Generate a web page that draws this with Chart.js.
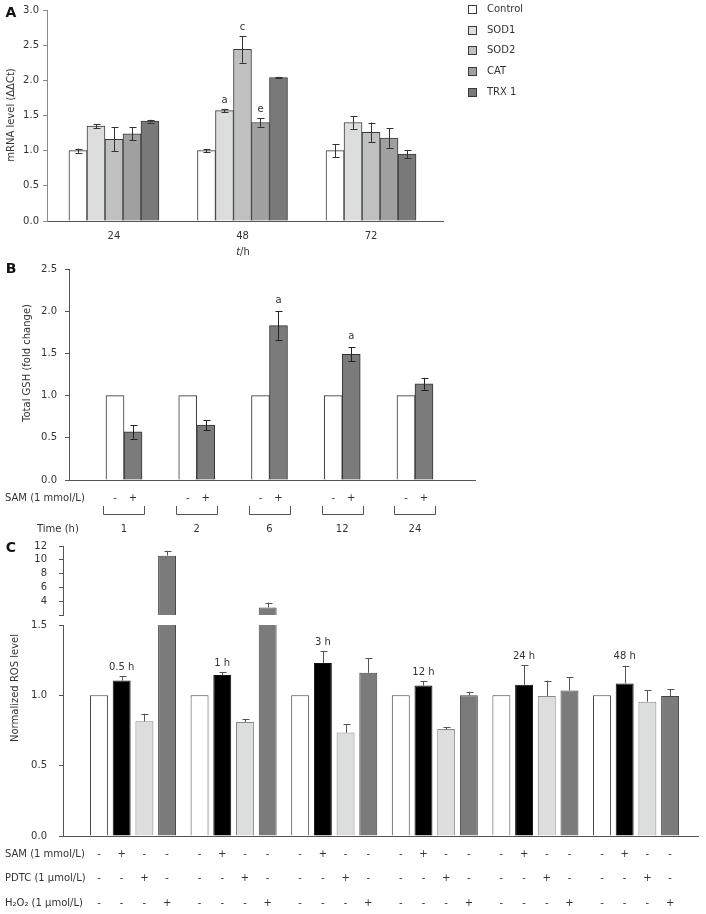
<!DOCTYPE html>
<html>
<head>
<meta charset="utf-8">
<script src="https://cdn.jsdelivr.net/npm/chart.js@4"></script>
<style>
  body { margin: 0; background: #fff; }
  #page { position: relative; width: 706px; height: 914px; overflow: hidden; }
  canvas { position: absolute; left: 0; }
</style>
</head>
<body>
<div id="page">
  <canvas id="chartA" width="706" height="262" style="top:0"></canvas>
  <canvas id="chartB" width="706" height="285" style="top:255px"></canvas>
  <canvas id="chartCtop" width="706" height="85" style="top:535px"></canvas>
  <canvas id="chartC" width="706" height="295" style="top:619px"></canvas>
</div>
<script>
// ---- Panel A: mRNA levels ----
const timesA = ['24', '48', '72'];
const genesA = ['Control', 'SOD1', 'SOD2', 'CAT', 'TRX 1'];
const controlA = [1.00, 1.00, 1.00];
const sod1A = [1.35, 1.57, 1.40];
const sod2A = [1.16, 2.44, 1.26];
const catA = [1.24, 1.40, 1.18];
const trx1A = [1.42, 2.04, 0.95];
const controlAErr = [0.03, 0.02, 0.09];
const sod1AErr = [0.03, 0.02, 0.09];
const sod2AErr = [0.17, 0.19, 0.14];
const catAErr = [0.09, 0.06, 0.14];
const trx1AErr = [0.02, 0.01, 0.06];
const sod1ANotes = ['', 'a', ''];
const sod2ANotes = ['', 'c', ''];
const catANotes = ['', 'e', ''];

// ---- Panel B: total GSH ----
const timesB = ['1', '2', '6', '12', '24'];
const controlB = [1, 1, 1, 1, 1];
const samB = [0.57, 0.65, 1.83, 1.49, 1.14];
const samBErr = [0.08, 0.06, 0.17, 0.08, 0.07];
const samBNotes = ['', '', 'a', 'a', ''];

// ---- Panel C: ROS ----
const timesC = ['0.5 h', '1 h', '3 h', '12 h', '24 h', '48 h'];
const controlC = [1, 1, 1, 1, 1, 1];
const samC = [1.105, 1.145, 1.23, 1.07, 1.075, 1.085];
const samCErr = [0.03, 0.02, 0.085, 0.03, 0.14, 0.125];
const pdtcC = [0.815, 0.81, 0.735, 0.76, 0.995, 0.955];
const pdtcCErr = [0.055, 0.02, 0.06, 0.015, 0.11, 0.08];
const h2o2C = [10.6, 3.1, 1.16, 1.0, 1.035, 0.995];
const h2o2CErr = [0.7, 0.7, 0.105, 0.025, 0.095, 0.05];
const samSigns = ['-', '+', '-', '-'];
const pdtcSigns = ['-', '-', '+', '-'];
const h2o2Signs = ['-', '-', '-', '+'];

const FONT = '10px "DejaVu Sans", sans-serif';
const TEXT = '#333';
const AXIS = '#555';

Chart.defaults.font.family = '"DejaVu Sans", sans-serif';
Chart.defaults.font.size = 10;
Chart.defaults.color = TEXT;

function xy(values) {
  return values.map((v, i) => ({ x: i, y: v }));
}

// error bars (+ optional letters above them)
function errorBars(errs, notes, both, color, gap) {
  return {
    id: 'errorBars',
    afterDatasetsDraw(chart) {
      const { ctx, scales: { y } } = chart;
      ctx.save();
      ctx.lineWidth = 1;
      ctx.strokeStyle = color;
      ctx.fillStyle = TEXT;
      ctx.font = FONT;
      ctx.textAlign = 'center';
      ctx.textBaseline = 'bottom';
      chart.data.datasets.forEach((ds, i) => {
        const e = errs[i] || [];
        const n = notes[i] || [];
        chart.getDatasetMeta(i).data.forEach((bar, j) => {
          const v = ds.data[j].y;
          const err = e[j] || 0;
          if (v < y.min || v + err > y.max + 1e-9) return;
          let top = bar.y;
          const x = Math.round(bar.x) + 0.5;
          if (err) {
            top = y.getPixelForValue(v + err);
            const bot = both ? y.getPixelForValue(v - err) : bar.y;
            ctx.beginPath();
            ctx.moveTo(x, bot);
            ctx.lineTo(x, top);
            ctx.moveTo(x - 3, Math.round(top) + 0.5);
            ctx.lineTo(x + 4, Math.round(top) + 0.5);
            if (both) {
              ctx.moveTo(x - 3, Math.round(bot) + 0.5);
              ctx.lineTo(x + 4, Math.round(bot) + 0.5);
            }
            ctx.stroke();
          }
          if (n[j]) ctx.fillText(n[j], bar.x, top - gap);
        });
      });
      ctx.restore();
    }
  };
}

// free text: titles, panel letters, row labels
function textItems(items) {
  return {
    id: 'textItems',
    afterDraw(chart) {
      const ctx = chart.ctx;
      items.forEach(it => {
        ctx.save();
        ctx.translate(it.x, it.y);
        if (it.rotate) ctx.rotate(it.rotate);
        ctx.fillStyle = it.color || TEXT;
        ctx.textBaseline = 'middle';
        ctx.textAlign = 'left';
        const parts = it.parts || [{ text: it.text, font: it.font }];
        const widths = parts.map(p => { ctx.font = p.font || it.font || FONT; return ctx.measureText(p.text).width; });
        const w = widths.reduce((a, b) => a + b, 0);
        let x = it.align === 'left' ? 0 : -w / 2;
        parts.forEach((p, k) => {
          ctx.font = p.font || it.font || FONT;
          ctx.fillText(p.text, x, 0);
          x += widths[k];
        });
        ctx.restore();
      });
    }
  };
}

// +/- rows under the bars, optional brackets and group names
function treatRows(rows, brackets, groups) {
  return {
    id: 'treatRows',
    afterDraw(chart) {
      const ctx = chart.ctx;
      const xs = chart.scales.x;
      ctx.save();
      ctx.font = FONT;
      ctx.fillStyle = TEXT;
      ctx.textAlign = 'center';
      ctx.textBaseline = 'middle';
      rows.forEach(row => {
        row.signs.forEach((s, d) => {
          chart.getDatasetMeta(d).data.forEach(bar => ctx.fillText(s, bar.x, row.y));
        });
      });
      if (groups) {
        groups.names.forEach((name, j) => {
          const cx = xs.getPixelForValue(j);
          ctx.fillText(name, cx, groups.y);
          if (brackets) {
            const l = Math.round(cx - brackets.half) + 0.5;
            const r = Math.round(cx + brackets.half) + 0.5;
            ctx.strokeStyle = AXIS;
            ctx.lineWidth = 1;
            ctx.beginPath();
            ctx.moveTo(l, brackets.top);
            ctx.lineTo(l, brackets.bottom + 0.5);
            ctx.lineTo(r, brackets.bottom + 0.5);
            ctx.lineTo(r, brackets.top);
            ctx.stroke();
          }
        });
      }
      ctx.restore();
    }
  };
}

function sideLegend(x, y0, dy) {
  return {
    id: 'sideLegend',
    afterDraw(chart) {
      const ctx = chart.ctx;
      ctx.save();
      ctx.font = FONT;
      ctx.textBaseline = 'middle';
      ctx.textAlign = 'left';
      chart.data.datasets.forEach((ds, i) => {
        const y = Math.round(y0 + i * dy);
        ctx.fillStyle = ds.backgroundColor;
        ctx.strokeStyle = ds.borderColor;
        ctx.lineWidth = 1;
        ctx.fillRect(x + 0.5, y - 4 + 0.5, 8, 8);
        ctx.strokeRect(x + 0.5, y - 4 + 0.5, 8, 8);
        ctx.fillStyle = TEXT;
        ctx.fillText(ds.label, x + 19, y);
      });
      ctx.restore();
    }
  };
}

function yAxis(min, max, step, width, pad, fmt, color) {
  return {
    min, max,
    ticks: { stepSize: step, padding: pad, autoSkip: false, callback: fmt },
    grid: { display: true, drawOnChartArea: false, drawTicks: true, tickLength: 4, color: color || AXIS },
    border: { color: color || AXIS, width: 1 },
    afterFit: s => { s.width = width; s.paddingTop = 0; s.paddingBottom = 0; }
  };
}

function xAxis(min, max, height, labels, pad) {
  return {
    type: 'linear', offset: false, min, max,
    ticks: { stepSize: 1, includeBounds: false, display: !!labels, padding: pad || 0,
             callback: v => (labels ? labels[v] : '') },
    grid: { display: false, drawTicks: false },
    border: { color: AXIS, width: 1 },
    afterFit: s => { s.height = height; s.paddingLeft = 0; s.paddingRight = 0; }
  };
}

const base = {
  responsive: false,
  animation: false,
  plugins: { legend: { display: false }, tooltip: { enabled: false } }
};

const fix1 = v => v.toFixed(1);

// ---- Chart A ----
const colorsA = ['#ffffff', '#dcdedd', '#bfc1c0', '#a0a0a0', '#797979'];
const valuesA = [controlA, sod1A, sod2A, catA, trx1A];
new Chart(document.getElementById('chartA'), {
  type: 'bar',
  data: {
    datasets: valuesA.map((vals, i) => ({
      label: genesA[i], data: xy(vals), backgroundColor: colorsA[i],
      borderColor: '#3a3a3a', borderWidth: 1, barThickness: 18
    }))
  },
  options: {
    ...base,
    layout: { padding: { top: 10, right: 263, left: 0, bottom: 0 } },
    scales: {
      x: xAxis(-0.521, 2.56, 41, timesA, 9),
      y: yAxis(0, 3, 0.5, 47, 4, fix1, '#8a8a8a')
    }
  },
  plugins: [
    errorBars([controlAErr, sod1AErr, sod2AErr, catAErr, trx1AErr], [[], sod1ANotes, sod2ANotes, catANotes, []], true, '#333', 4),
    sideLegend(468, 9, 20.7),
    textItems([
      { text: 'A', x: 11, y: 13, font: 'bold 14px "DejaVu Sans", sans-serif', color: '#111' },
      { text: 'mRNA level (ΔΔCt)', x: 11, y: 115, rotate: -Math.PI / 2 },
      { parts: [{ text: 't', font: 'italic 10px "DejaVu Sans", sans-serif' }, { text: '/h' }], x: 243, y: 252 }
    ])
  ]
});

// ---- Chart B ----
new Chart(document.getElementById('chartB'), {
  type: 'bar',
  data: {
    datasets: [
      { label: 'Control', data: xy(controlB), backgroundColor: '#ffffff', borderColor: '#333', borderWidth: 1, barThickness: 18 },
      { label: 'SAM', data: xy(samB), backgroundColor: '#7b7b7b', borderColor: '#333', borderWidth: 1, barThickness: 18 }
    ]
  },
  options: {
    ...base,
    layout: { padding: { top: 14, right: 231, left: 0, bottom: 0 } },
    scales: {
      x: xAxis(-0.756, 4.825, 60, null),
      y: yAxis(0, 2.5, 0.5, 69, 8, fix1)
    }
  },
  plugins: [
    errorBars([[], samBErr], [[], samBNotes], true, '#222', 6),
    treatRows([{ signs: ['-', '+'], y: 243 }], { half: 20.5, top: 251, bottom: 259 }, { names: timesB, y: 274 }),
    textItems([
      { text: 'B', x: 11, y: 14, font: 'bold 14px "DejaVu Sans", sans-serif', color: '#111' },
      { text: 'Total GSH (fold change)', x: 27, y: 108, rotate: -Math.PI / 2 },
      { text: 'SAM (1 mmol/L)', x: 5, y: 243, align: 'left' },
      { text: 'Time (h)', x: 37, y: 274, align: 'left' }
    ])
  ]
});

// ---- Chart C (broken axis: upper and lower parts) ----
const colorsC = ['#ffffff', '#000000', '#dcdedd', '#7b7b7b'];
const bordersC = ['#444', '#111', '#888', '#444'];
const namesC = ['Control', 'SAM', 'PDTC', 'H2O2'];
const valuesC = [controlC, samC, pdtcC, h2o2C];
const errsC = [[], samCErr, pdtcCErr, h2o2CErr];
function datasetsC() {
  return valuesC.map((vals, i) => ({
    label: namesC[i], data: xy(vals), backgroundColor: colorsC[i],
    borderColor: bordersC[i], borderWidth: 1,
    categoryPercentage: 0.9026, barPercentage: 0.79
  }));
}

new Chart(document.getElementById('chartCtop'), {
  type: 'bar',
  data: { datasets: datasetsC() },
  options: {
    ...base,
    layout: { padding: { top: 11, right: 8, left: 0, bottom: 5 } },
    scales: {
      x: { ...xAxis(-0.696, 5.616, 0, null), display: false },
      y: yAxis(2, 12, 2, 63, 12, v => (v === 2 ? '' : v))
    }
  },
  plugins: [
    errorBars(errsC, [], false, '#555', 4),
    textItems([
      { text: 'C', x: 11, y: 13, font: 'bold 14px "DejaVu Sans", sans-serif', color: '#111' }
    ])
  ]
});

new Chart(document.getElementById('chartC'), {
  type: 'bar',
  data: { datasets: datasetsC() },
  options: {
    ...base,
    layout: { padding: { top: 6, right: 8, left: 0, bottom: 0 } },
    scales: {
      x: xAxis(-0.696, 5.616, 78, null),
      y: yAxis(0, 1.5, 0.5, 63, 12, fix1)
    }
  },
  plugins: [
    errorBars(errsC, [[], timesC, [], []], false, '#555', 4),
    treatRows([
      { signs: samSigns, y: 235 },
      { signs: pdtcSigns, y: 259 },
      { signs: h2o2Signs, y: 284 }
    ]),
    textItems([
      { text: 'Normalized ROS level', x: 15, y: 69, rotate: -Math.PI / 2 },
      { text: 'SAM (1 mmol/L)', x: 5, y: 235, align: 'left' },
      { text: 'PDTC (1 μmol/L)', x: 5, y: 259, align: 'left' },
      { text: 'H₂O₂ (1 μmol/L)', x: 5, y: 284, align: 'left' }
    ])
  ]
});
</script>
</body>
</html>
